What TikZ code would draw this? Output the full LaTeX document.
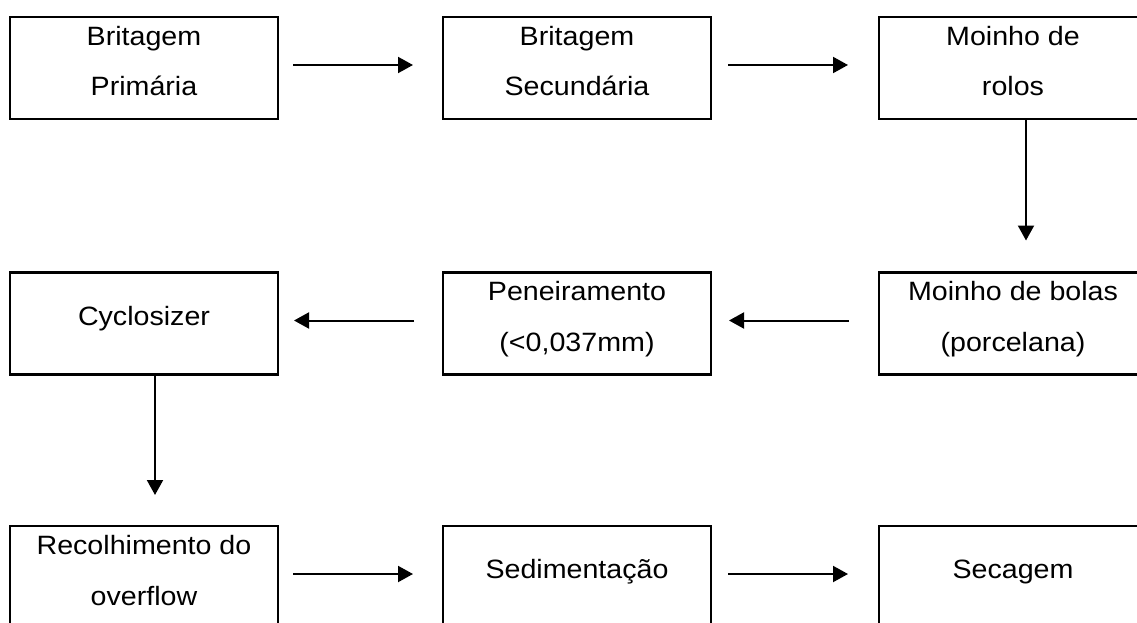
\documentclass[tikz,border=0pt]{standalone}
\usepackage{fontspec}
\setmainfont{Liberation Sans}[FakeStretch=1.08]
\usetikzlibrary{arrows.meta}
\begin{document}
\begin{tikzpicture}[x=1pt,y=-1pt,
  box/.style={draw=black,line width=2.9pt,minimum width=268pt,minimum height=102pt,inner sep=0pt,outer sep=0pt},
  txt/.style={anchor=base,align=center,inner sep=0pt,font=\fontsize{26.5}{51}\selectfont},
  conn/.style={line width=2pt,-{Triangle[length=15pt,width=16pt]}}]
\useasboundingbox[fill=white] (0,0) rectangle (1137,623);
% boxes
\node[box] (b1) at (144,68) {};
\node[box] (b2) at (577,68) {};
\node[box] (b3) at (1013,68) {};
\node[box] (b4) at (144,323.5) {};
\node[box] (b5) at (577,323.5) {};
\node[box] (b6) at (1013,323.5) {};
\node[box] (b7) at (144,577) {};
\node[box] (b8) at (577,577) {};
\node[box] (b9) at (1013,577) {};
% texts (base anchor = baseline of last line)
\node[txt] (t1) at ([yshift=-79pt]b1.north) {Britagem\\Primária};
\node[txt] (t2) at ([yshift=-79pt]b2.north) {Britagem\\Secundária};
\node[txt] (t3) at ([yshift=-79pt]b3.north) {Moinho de\\rolos};
\node[txt] (t4) at ([yshift=-52.5pt]b4.north) {Cyclosizer};
\node[txt] (t5) at ([yshift=-79pt]b5.north) {Peneiramento\\(<0,037mm)};
\node[txt] (t6) at ([yshift=-79pt]b6.north) {Moinho de bolas\\(porcelana)};
\node[txt] (t7) at ([yshift=-79pt]b7.north) {Recolhimento do\\overflow};
\node[txt] (t8) at ([yshift=-52.5pt]b8.north) {Sedimentação};
\node[txt] (t9) at ([yshift=-52.5pt]b9.north) {Secagem};
% connectors
\draw[conn,shorten <=15pt,shorten >=30pt] ([yshift=3pt]b1.east) -- ([yshift=3pt]b2.west);
\draw[conn,shorten <=17pt,shorten >=31pt] ([yshift=3pt]b2.east) -- ([yshift=3pt]b3.west);
\draw[conn,shorten >=32pt] ([xshift=13pt]b3.south) -- ([xshift=13pt]b6.north);
\draw[conn,shorten <=30pt,shorten >=18pt] ([yshift=3pt]b6.west) -- ([yshift=3pt]b5.east);
\draw[conn,shorten <=29pt,shorten >=16pt] ([yshift=3pt]b5.west) -- ([yshift=3pt]b4.east);
\draw[conn,shorten >=31pt] ([xshift=11pt]b4.south) -- ([xshift=11pt]b7.north);
\draw[conn,shorten <=15pt,shorten >=30pt] ([yshift=3pt]b7.east) -- ([yshift=3pt]b8.west);
\draw[conn,shorten <=17pt,shorten >=31pt] ([yshift=3pt]b8.east) -- ([yshift=3pt]b9.west);
\end{tikzpicture}
\end{document}
